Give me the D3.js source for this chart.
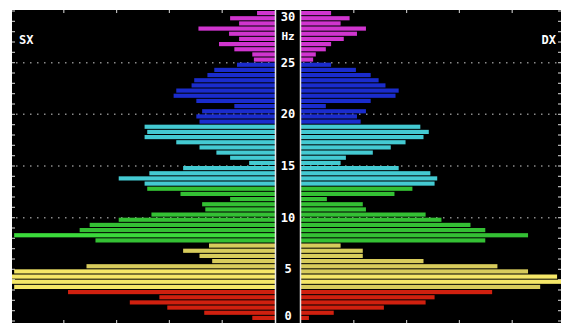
<!DOCTYPE html>
<html>
<head>
<meta charset="utf-8">
<script src="https://cdn.jsdelivr.net/npm/d3@7"></script>
<style>
  html, body { margin: 0; padding: 0; background: #fff; }
  svg { display: block; }
</style>
</head>
<body>
<svg id="chart" width="567" height="324"></svg>
<script>
// ---- data (0.5 Hz bins, bin start frequency) ----
const binStarts = d3.range(0, 30, 0.5);
// left hemisphere (SX) amplitude per bin, bottom (0 Hz) to top (29.5 Hz)
const leftValues = [
  0.43, 1.34, 2.04, 2.75, 2.19, 3.92,
  4.94, 5.00, 5.00, 4.94, 3.57, 1.19, 1.43, 1.74, 1.25,
  3.40, 4.94, 3.70, 3.51, 2.96, 2.34, 1.32, 1.38, 0.85, 1.79, 2.42, 2.47,
  2.96, 2.38, 1.74, 0.49, 0.85, 1.11, 1.43, 1.87, 2.47, 2.42, 2.47,
  1.43, 1.49, 1.38, 0.77, 1.49, 1.92, 1.87, 1.58, 1.53, 1.28, 1.15, 0.72,
  0.40, 0.43, 0.77, 1.06, 0.68, 0.87, 1.45, 0.68, 0.85, 0.34
];
// right hemisphere (DX)
const rightValues = [
  0.15, 0.62, 1.57, 2.36, 2.53, 3.62,
  4.53, 4.94, 4.85, 4.30, 3.72, 2.32, 1.17, 1.17, 0.75,
  3.49, 4.30, 3.49, 3.21, 2.66, 2.36, 1.23, 1.17, 0.49, 1.77, 2.11, 2.53,
  2.58, 2.45, 1.85, 0.75, 0.85, 1.36, 1.70, 1.98, 2.32, 2.42, 2.26,
  1.13, 1.06, 1.23, 0.47, 1.32, 1.79, 1.85, 1.60, 1.47, 1.32, 1.04, 0.57,
  0.23, 0.28, 0.47, 0.57, 0.81, 1.06, 1.23, 0.75, 0.92, 0.57
];
// frequency bands (start Hz, end Hz) and their colours
const bandStarts = [0, 3, 7.5, 13, 19, 25];
const bandEnds   = [3, 7.5, 13, 19, 25, 30];
const bandColors = ["#d0200f", "#d8cc5c", "#34c034", "#44cad2", "#1a2ccc", "#d035cf"];
// frequency tick labels
const freqTicks = [0, 5, 10, 15, 20, 25, 30];
const gridFreqs = [10, 15, 20, 25];
const sideLabels = ["SX", "DX"];
const unitLabel = "Hz";

// ---- layout ----
const W = 567, H = 324;
const plot = { x0: 12, x1: 561, y0: 10, y1: 323 };
const leftOrigin = 275, rightOrigin = 301, colMid = 288;

const svg = d3.select("#chart");
const y = d3.scaleLinear().domain([0, 30]).range([321, 11]);
const x = d3.scaleLinear().domain([0, 5]).range([0, 264]);

svg.append("rect").attr("x", 0).attr("y", 0).attr("width", W).attr("height", H).attr("fill", "#fff");
svg.append("rect").attr("x", plot.x0).attr("y", plot.y0)
   .attr("width", plot.x1 - plot.x0).attr("height", plot.y1 - plot.y0).attr("fill", "#000");

svg.append("clipPath").attr("id", "clip").append("rect")
   .attr("x", plot.x0).attr("y", plot.y0)
   .attr("width", plot.x1 - plot.x0).attr("height", plot.y1 - plot.y0);

// dotted gridlines
svg.append("g").selectAll("line").data(gridFreqs).join("line")
   .attr("x1", plot.x0 + 4).attr("x2", plot.x1 - 4)
   .attr("y1", d => y(d)).attr("y2", d => y(d))
   .attr("stroke", "#8a8a8a").attr("stroke-width", 1.5)
   .attr("stroke-dasharray", "1.5,5.5");

// edge ticks (1 Hz) on left and right borders
const hz = d3.range(0, 31, 1);
svg.append("g").selectAll("line").data(hz).join("line")
   .attr("x1", plot.x0).attr("x2", plot.x0 + 3)
   .attr("y1", d => y(d)).attr("y2", d => y(d))
   .attr("stroke", "#bbb").attr("stroke-width", 1.2);
svg.append("g").selectAll("line").data(hz).join("line")
   .attr("x1", plot.x1 - 3).attr("x2", plot.x1)
   .attr("y1", d => y(d)).attr("y2", d => y(d))
   .attr("stroke", "#bbb").attr("stroke-width", 1.2);

// amplitude ticks on top and bottom borders
const ampTicks = [1, 2, 3, 4];
const tickXs = ampTicks.map(t => leftOrigin - x(t)).concat(ampTicks.map(t => rightOrigin + x(t)));
svg.append("g").selectAll("line").data(tickXs).join("line")
   .attr("x1", d => d).attr("x2", d => d)
   .attr("y1", plot.y0).attr("y2", plot.y0 + 3)
   .attr("stroke", "#bbb").attr("stroke-width", 1.2);
svg.append("g").selectAll("line").data(tickXs).join("line")
   .attr("x1", d => d).attr("x2", d => d)
   .attr("y1", plot.y1 - 3).attr("y2", plot.y1)
   .attr("stroke", "#bbb").attr("stroke-width", 1.2);

function bandColor(f) {
  for (let i = 0; i < bandStarts.length; i++) {
    if (f >= bandStarts[i] && f < bandEnds[i]) return bandColors[i];
  }
  return bandColors[bandColors.length - 1];
}
// longest bars look slightly brighter in the reference display
function barFill(f, v) {
  const c = d3.color(bandColor(f));
  return v >= 4.8 ? c.brighter(0.35).formatHex() : c.formatHex();
}

const rows = binStarts.map((f, i) => ({ f, l: leftValues[i], r: rightValues[i] }));
const gap = 1;
const bars = svg.append("g").attr("clip-path", "url(#clip)");
bars.selectAll("rect.l").data(rows).join("rect").attr("class", "l")
   .attr("x", d => leftOrigin - x(d.l)).attr("width", d => x(d.l))
   .attr("y", d => y(d.f + 0.5)).attr("height", d => y(d.f) - y(d.f + 0.5) - gap)
   .attr("fill", d => barFill(d.f, d.l));
bars.selectAll("rect.r").data(rows).join("rect").attr("class", "r")
   .attr("x", rightOrigin).attr("width", d => x(d.r))
   .attr("y", d => y(d.f + 0.5)).attr("height", d => y(d.f) - y(d.f + 0.5) - gap)
   .attr("fill", d => barFill(d.f, d.r));

// central column
svg.append("rect").attr("x", leftOrigin).attr("y", plot.y0)
   .attr("width", rightOrigin - leftOrigin).attr("height", plot.y1 - plot.y0).attr("fill", "#000");
[leftOrigin + 0.5, rightOrigin - 0.5].forEach(xx => {
  svg.append("line").attr("x1", xx).attr("x2", xx).attr("y1", plot.y0).attr("y2", plot.y1)
     .attr("stroke", "#e8e8e8").attr("stroke-width", 1.5);
});

const font = "'DejaVu Sans Mono', monospace";
svg.append("g").selectAll("text").data(freqTicks).join("text")
   .attr("x", colMid)
   .attr("y", d => Math.max(17, Math.min(316, y(d))))
   .attr("text-anchor", "middle").attr("dominant-baseline", "central")
   .attr("fill", "#fff").attr("font-family", font).attr("font-weight", "bold")
   .attr("font-size", 12).text(d => d);
svg.append("text").attr("x", colMid).attr("y", y(27.5))
   .attr("text-anchor", "middle").attr("dominant-baseline", "central")
   .attr("fill", "#fff").attr("font-family", font).attr("font-weight", "bold")
   .attr("font-size", 11).text(unitLabel);

svg.append("text").attr("x", 19).attr("y", 40).attr("dominant-baseline", "central")
   .attr("fill", "#fff").attr("font-family", font).attr("font-weight", "bold")
   .attr("font-size", 12).text(sideLabels[0]);
svg.append("text").attr("x", 556).attr("y", 40).attr("text-anchor", "end").attr("dominant-baseline", "central")
   .attr("fill", "#fff").attr("font-family", font).attr("font-weight", "bold")
   .attr("font-size", 12).text(sideLabels[1]);
</script>
</body>
</html>
